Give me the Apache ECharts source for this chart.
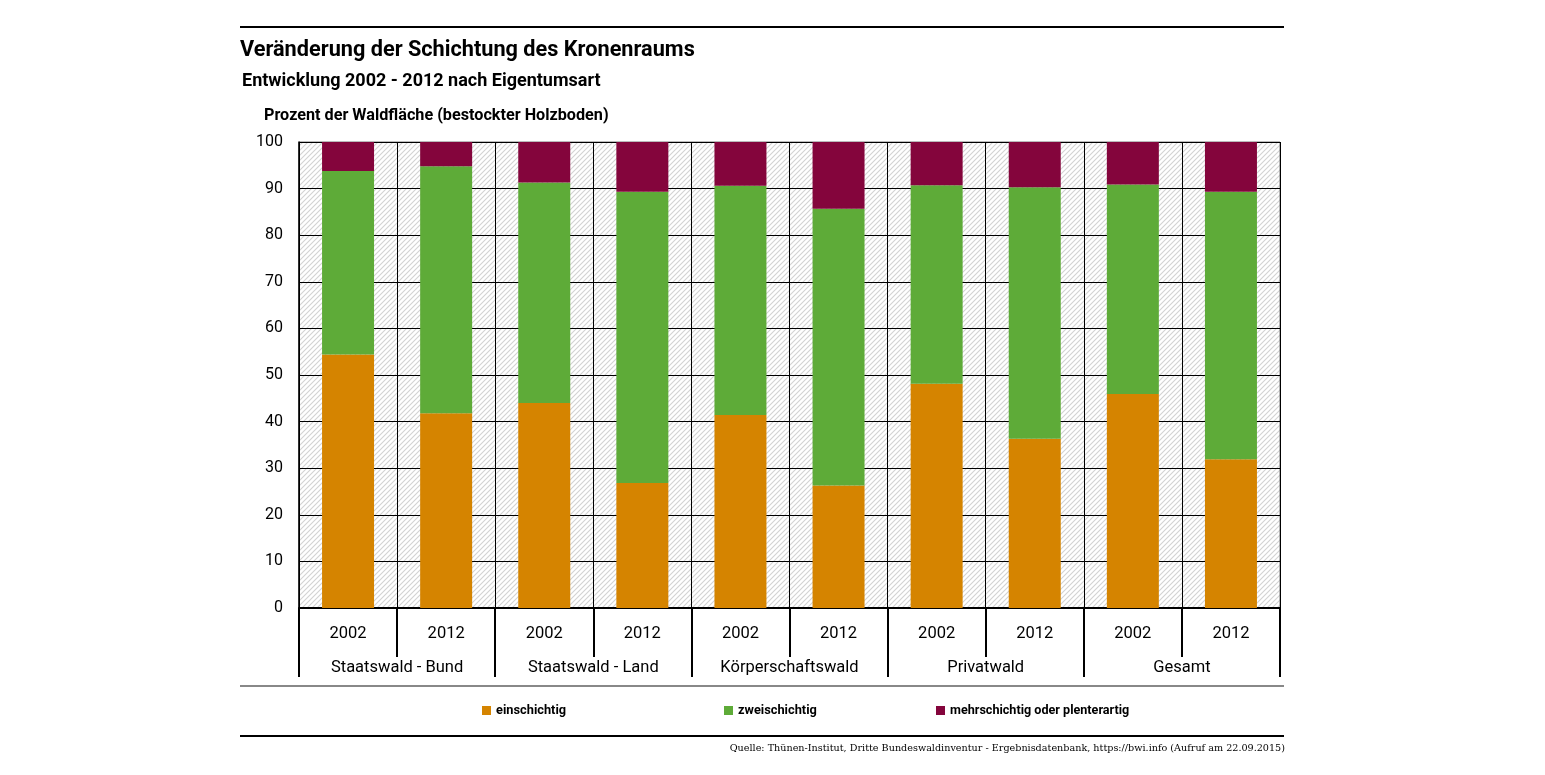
<!DOCTYPE html>
<html>
<head>
<meta charset="utf-8">
<script src="https://cdn.jsdelivr.net/npm/echarts@6/dist/echarts.min.js"></script>
<style>html,body{margin:0;padding:0;background:#fff;}#c{width:1545px;height:775px;}</style>
</head>
<body>
<div id="c"></div>
<script>
const years = ['2002','2012','2002','2012','2002','2012','2002','2012','2002','2012'];
const groups = ['Staatswald - Bund','Staatswald - Land','Körperschaftswald','Privatwald','Gesamt'];
const einschichtig = [54.4, 41.8, 44.0, 26.8, 41.4, 26.3, 48.1, 36.3, 45.9, 31.9];
const zweischichtig = [39.4, 53.0, 47.3, 62.5, 49.2, 59.4, 42.6, 54.0, 45.0, 57.4];
const mehrschichtig = [6.2, 5.2, 8.7, 10.7, 9.4, 14.3, 9.3, 9.7, 9.1, 10.7];
const yTicks = [0,10,20,30,40,50,60,70,80,90,100];

const FONT = 'Roboto, "Noto Sans", sans-serif';

// hatch pattern
const S = 5;
const pc = document.createElement('canvas');
pc.width = S; pc.height = S;
const g = pc.getContext('2d');
g.fillStyle = '#ffffff'; g.fillRect(0,0,S,S);
g.strokeStyle = '#d2d2d2'; g.lineWidth = 1.1;
g.beginPath();
g.moveTo(0,S); g.lineTo(S,0);
g.moveTo(-S,S); g.lineTo(S,-S);
g.moveTo(0,2*S); g.lineTo(2*S,0);
g.stroke();

const chart = echarts.init(document.getElementById('c'));
chart.setOption({
  backgroundColor: '#ffffff',
  animation: false,
  title: [
    {text: 'Veränderung der Schichtung des Kronenraums', left: 240, top: 40, padding: 0,
     textStyle: {fontFamily: FONT, fontSize: 21.7, fontWeight: 'bold', color: '#000'}},
    {text: 'Entwicklung 2002 - 2012 nach Eigentumsart', left: 242, top: 72, padding: 0,
     textStyle: {fontFamily: FONT, fontSize: 18, fontWeight: 'bold', color: '#000'}},
    {text: 'Prozent der Waldfläche (bestockter Holzboden)', left: 264, top: 108, padding: 0,
     textStyle: {fontFamily: FONT, fontSize: 16.2, fontWeight: 'bold', color: '#000'}},
    {text: 'Quelle: Thünen-Institut, Dritte Bundeswaldinventur - Ergebnisdatenbank, https://bwi.info (Aufruf am 22.09.2015)',
     right: 260, top: 743, padding: 0,
     textStyle: {fontFamily: '"DejaVu Serif", "Liberation Serif", serif', fontSize: 9.65, fontWeight: 'normal', color: '#000'}}
  ],
  legend: [
    {data: ['einschichtig'], left: 477, top: 699, icon: 'rect', itemWidth: 9, itemHeight: 9,
     textStyle: {fontFamily: FONT, fontSize: 12.8, fontWeight: 'bold', color: '#000'}},
    {data: ['zweischichtig'], left: 719, top: 699, icon: 'rect', itemWidth: 9, itemHeight: 9,
     textStyle: {fontFamily: FONT, fontSize: 12.8, fontWeight: 'bold', color: '#000'}},
    {data: ['mehrschichtig oder plenterartig'], left: 931, top: 699, icon: 'rect', itemWidth: 9, itemHeight: 9,
     textStyle: {fontFamily: FONT, fontSize: 12.6, fontWeight: 'bold', color: '#000'}}
  ],
  grid: {left: 299, right: 265, top: 142, bottom: 167, show: true,
         backgroundColor: {image: pc, repeat: 'repeat'}, borderColor: '#777', borderWidth: 1},
  xAxis: [
    {type: 'category', data: years, position: 'bottom',
     axisLine: {show: true, lineStyle: {color: '#000', width: 2}},
     axisTick: {show: true, length: 49, lineStyle: {color: '#000', width: 2}},
     axisLabel: {margin: 17, fontFamily: FONT, fontSize: 16.5, color: '#000'},
     splitLine: {show: true, lineStyle: {color: '#000', width: 1}}},
    {type: 'category', data: groups, position: 'bottom',
     axisLine: {show: false},
     axisTick: {show: true, length: 69, lineStyle: {color: '#000', width: 2}},
     axisLabel: {margin: 51, fontFamily: FONT, fontSize: 16.5, color: '#000'},
     splitLine: {show: false}}
  ],
  yAxis: {type: 'value', min: 0, max: 100, interval: 10,
    axisLine: {show: true, lineStyle: {color: '#000', width: 1.5}},
    axisTick: {show: false},
    axisLabel: {margin: 16, fontFamily: FONT, fontSize: 16, color: '#000',
      formatter: v => yTicks.includes(v) ? String(v) : ''},
    splitLine: {show: true, lineStyle: {color: '#000', width: 1}}},
  graphic: [
    {type: 'line', shape: {x1: 240, y1: 27, x2: 1284, y2: 27}, style: {stroke: '#000', lineWidth: 2}},
    {type: 'line', shape: {x1: 240, y1: 686, x2: 1284, y2: 686}, style: {stroke: '#888', lineWidth: 2}},
    {type: 'line', shape: {x1: 240, y1: 736, x2: 1284, y2: 736}, style: {stroke: '#000', lineWidth: 2}}
  ],
  series: [
    {name: 'einschichtig', type: 'bar', stack: 's', data: einschichtig, barCategoryGap: '47%',
     itemStyle: {color: '#D58400'}},
    {name: 'zweischichtig', type: 'bar', stack: 's', data: zweischichtig,
     itemStyle: {color: '#5EAB38'}},
    {name: 'mehrschichtig oder plenterartig', type: 'bar', stack: 's', data: mehrschichtig,
     itemStyle: {color: '#84053C'}}
  ]
});
</script>
</body>
</html>
